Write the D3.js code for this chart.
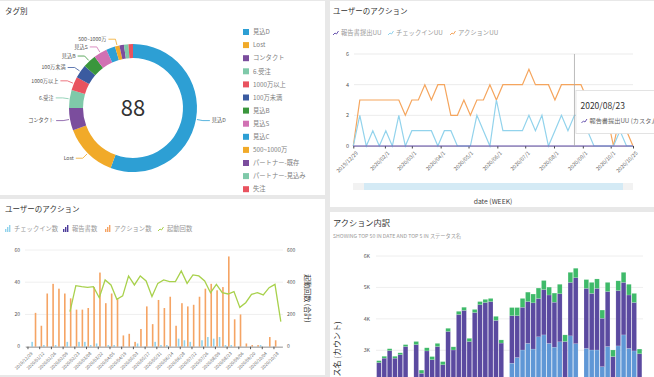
<!DOCTYPE html>
<html>
<head>
<meta charset="utf-8">
<script src="https://cdn.jsdelivr.net/npm/d3@7"></script>
<style>
body { margin: 0; background: #e8e8e8; }
svg { display: block; font-family: "Noto Sans CJK JP", "Noto Sans", sans-serif; }
</style>
</head>
<body>
<script>
//////////////// Datas ////////////////////
// Donut: タグ別
var tagNames  = ["見込D", "Lost", "コンタクト", "6.受注", "1000万以上", "100万未満", "見込B", "見込S",
                 "見込C", "500~1000万", "パートナー-既存", "パートナー-見込み", "失注"];
var tagCounts = [49, 12, 5, 4, 3, 3, 3, 3, 2, 1, 1, 1, 1];
var tagLabeled = ["見込D", "Lost", "コンタクト", "6.受注", "1000万以上", "100万未満", "見込B", "見込S", "500~1000万"];
var tagTotal = 88;

// Line chart: ユーザーのアクション (UU, weekly)
var uuSeriesNames = ["報告書提出UU", "チェックインUU", "アクションUU"];
var reportUU  = [0,0,0,0,0,0,0,0,0,0,0,0,0,0,0,0,0,0,0,0,0,0,0,0,0,0,0,0,0,0,0,0,0,0,0,0,0,0,0,0,0,0,0,0];
var checkinUU = [0,2,0,1,0,1,0,2,0,1,1,1,1,0,1,1,0,0,0,2,1,0,3,1,1,1,1,2,1,2,0,1,2,1,2,2,1,0,0,0,0,1,0,0];
var actionUU  = [0,3,3,3,3,3,3,3,2,3,3,4,3,4,4,2,2,3,2,3,3,4,3,4,4,4,4,5,4,4,4,3,4,4,4,4,3,3,2,2,0,2,1,0];
var uuTickLabels = ["2019/12/29", "2020/02/1", "2020/03/1", "2020/04/1", "2020/05/1", "2020/06/1",
                    "2020/07/1", "2020/08/1", "2020/09/1", "2020/10/1", "2020/10/25"];
var uuYTicks = [0, 2, 4, 6];
var hoverWeek = "2020/08/23";

// Bar + line chart: ユーザーのアクション (counts, weekly)
var countSeriesNames = ["チェックイン数", "報告書数", "アクション数", "起動回数"];
var checkinCount = [0,3,0,1,0,1,0,3,0,3,3,1,2,0,1,1,0,0,0,2,0,0,3,1,1,0,5,4,3,0,4,6,5,6,1,1,0,0,0,0,1,0,0,0];
var reportCount  = [0,0,0,0,0,0,0,0,0,0,0,0,0,0,0,0,0,0,0,0,0,0,0,0,0,0,0,0,0,0,0,0,0,0,0,0,0,0,0,0,0,0,0,0];
var actionCount  = [0,21,13,33,39,36,33,30,23,23,24,37,46,27,33,30,7,8,3,11,25,14,29,24,31,13,27,25,26,31,36,39,35,37,56,17,20,2,1,1,0,6,4,0];
var launchCount  = [null,null,null,null,null,null,null,217,379,373,368,373,304,414,383,294,315,439,383,439,408,311,393,414,404,404,470,393,445,439,408,335,387,335,327,342,244,273,325,335,321,366,387,155];
var countTickLabels = ["2019/12/29","2020/01/12","2020/01/26","2020/02/09","2020/02/23","2020/03/08","2020/03/22",
                       "2020/04/05","2020/04/19","2020/05/03","2020/05/17","2020/05/31","2020/06/14","2020/06/28",
                       "2020/07/12","2020/07/26","2020/08/09","2020/08/23","2020/09/06","2020/09/20","2020/10/04","2020/10/18"];
var countLeftTicks = [0, 20, 40, 60];
var countRightTicks = [0, 200, 400, 600];

// Stacked bars: アクション内訳 (top 50 dates, visible part)
var statusKeys = ["statusA", "statusB", "statusC"];
var statusA = [1500,1500,1500,1500,1500,1500,1200,1500,1400,1500,1500,1500,1500,1500,1500,1500,1500,1500,1500,1500,1500,1500,1500,1500,1300,
               2590,2770,3010,3220,3040,3430,3490,3220,3100,3270,2000,3460,3210,1300,3060,3010,3010,2480,3120,1900,3140,3490,3060,2980,1900];
var statusB = [1110,1250,1490,1250,1360,1620,650,1680,870,1480,1200,1620,1040,2100,1510,2640,2770,1780,2700,2950,3020,3050,2450,1730,600,
               1510,1330,1360,1330,1470,1220,1440,1540,1430,1530,1280,1700,2100,700,1910,1800,1960,1540,1750,900,1760,1670,1700,1540,990];
var statusC = [60,60,60,60,60,60,50,100,100,100,100,100,100,100,100,100,100,100,100,100,100,100,130,100,100,
               260,260,280,300,280,330,290,250,290,300,210,320,300,150,280,350,300,260,290,210,310,320,340,290,150];
var breakdownYTicks = [3000, 4000, 5000, 6000];

//////////////// Colours ////////////////////
var tagPalette = ["#2d9fd4", "#f1aa29", "#7b4d9d", "#7fc9a9", "#e9535f", "#3b5ba0", "#3a963c", "#d171b3"];
var uuColors = ["#6a56b0", "#92d3ec", "#f5a55d"];
var countColors = ["#92d3ec", "#4b3b9a", "#f5a464", "#a8d14c"];
var statusColors = ["#5f97d6", "#5b4aa0", "#3fba6a"];

//////////////// SVG ////////////////////
var svg = d3.select("body").append("svg")
  .attr("width", 654)
  .attr("height", 377);

svg.append("rect").attr("width", 654).attr("height", 377).attr("fill", "#e8e8e8");

function panel(x, y, w, h) {
  svg.append("rect")
    .attr("x", x).attr("y", y).attr("width", w).attr("height", h)
    .attr("fill", "#fff");
  return svg.append("g").attr("transform", "translate(" + x + "," + y + ")");
}

var p1 = panel(0, 1, 325, 194);
var p2 = panel(330, 1, 324, 206);
var p3 = panel(0, 199, 325, 176);
var p4 = panel(330, 212, 324, 165);

function title(g, txt, x, y, size) {
  g.append("text").attr("x", x).attr("y", y)
    .attr("font-size", size).attr("fill", "#333").text(txt);
}

//////////////// Donut ////////////////////
title(p1, "タグ別", 5, 13, 7.5);

var tagColor = d3.scaleOrdinal().domain(tagNames).range(tagPalette);
var rOuter = 64, rInner = 50;
var donut = p1.append("g").attr("transform", "translate(133,107)");

var pie = d3.pie().sort(null).value(function(d, i){ return tagCounts[i]; });
var arcs = pie(tagNames);
var arc = d3.arc().innerRadius(rInner).outerRadius(rOuter);

donut.selectAll("path.slice")
  .data(arcs)
  .enter()
  .append("path")
  .attr("class", "slice")
  .attr("d", arc)
  .attr("fill", function(d){ return tagColor(d.data); });

donut.append("text")
  .attr("text-anchor", "middle")
  .attr("dy", "0.35em")
  .attr("font-size", 22)
  .attr("fill", "#333")
  .text(tagTotal);

// labels with leader lines
arcs.forEach(function(d){
  if (tagLabeled.indexOf(d.data) < 0) return;
  var mid = (d.startAngle + d.endAngle) / 2;
  var p0 = [Math.sin(mid) * (rOuter + 1), -Math.cos(mid) * (rOuter + 1)];
  var p1a = [Math.sin(mid) * (rOuter + 7), -Math.cos(mid) * (rOuter + 7)];
  var right = Math.sin(mid) > 0;
  var p2a = [p1a[0] + (right ? 7 : -7), p1a[1]];
  donut.append("path")
    .attr("d", "M" + p0 + "L" + p1a + "L" + p2a)
    .attr("fill", "none")
    .attr("stroke", tagColor(d.data))
    .attr("stroke-width", 0.8);
  donut.append("text")
    .attr("x", p2a[0] + (right ? 2 : -2))
    .attr("y", p2a[1])
    .attr("dy", "0.35em")
    .attr("text-anchor", right ? "start" : "end")
    .attr("font-size", 5.2)
    .attr("fill", "#555")
    .text(d.data);
});

// legend
var tagLegend = p1.selectAll("g.tagleg")
  .data(tagNames)
  .enter()
  .append("g")
  .attr("class", "tagleg")
  .attr("transform", function(d, i){ return "translate(243," + (31 + i * 13.1) + ")"; });
tagLegend.append("rect")
  .attr("x", 0).attr("y", -3).attr("width", 6).attr("height", 6)
  .attr("fill", function(d){ return tagColor(d); });
tagLegend.append("text")
  .attr("x", 10).attr("dy", "0.35em")
  .attr("font-size", 6.3).attr("fill", "#808080")
  .text(function(d){ return d; });

//////////////// Line chart (UU) ////////////////////
title(p2, "ユーザーのアクション", 3, 13, 7.5);

var weeks = d3.timeWeek.range(new Date(2019, 11, 29), new Date(2020, 9, 26));
var parseSlash = d3.timeParse("%Y/%m/%d");

var xUU = d3.scaleTime()
  .domain([weeks[0], weeks[weeks.length - 1]])
  .range([23.3, 303]);
var yUU = d3.scaleLinear().domain([0, 6]).range([145, 53]);

// legend
var uuLegend = p2.selectAll("g.uuleg")
  .data(uuSeriesNames)
  .enter()
  .append("g")
  .attr("class", "uuleg")
  .attr("transform", function(d, i){ return "translate(" + [3, 58, 120][i] + ",32)"; });
uuLegend.append("path")
  .attr("d", "M0,2 L2,0 L3.5,1 L5.5,-2")
  .attr("fill", "none")
  .attr("stroke", function(d, i){ return uuColors[i]; })
  .attr("stroke-width", 1);
uuLegend.append("text")
  .attr("x", 8).attr("dy", "0.35em")
  .attr("font-size", 6.3).attr("fill", "#999")
  .text(function(d){ return d; });

// grid
p2.selectAll("line.grid")
  .data(uuYTicks)
  .enter()
  .append("line")
  .attr("x1", 24).attr("x2", 303)
  .attr("y1", function(d){ return yUU(d); })
  .attr("y2", function(d){ return yUU(d); })
  .attr("stroke", "#e6e6e6").attr("stroke-width", 0.8);

p2.selectAll("text.ylab")
  .data(uuYTicks)
  .enter()
  .append("text")
  .attr("x", 19).attr("y", function(d){ return yUU(d); })
  .attr("dy", "0.35em").attr("text-anchor", "end")
  .attr("font-size", 5.5).attr("fill", "#555")
  .text(function(d){ return d; });

// x axis
var xAxisUU = d3.axisBottom(xUU)
  .tickValues(uuTickLabels.map(function(s){ return parseSlash(s); }))
  .tickFormat(function(d, i){ return uuTickLabels[i]; })
  .tickSize(2.5)
  .tickSizeOuter(0);
var gxUU = p2.append("g")
  .attr("transform", "translate(0," + yUU(0) + ")")
  .call(xAxisUU);
gxUU.select(".domain").attr("stroke", "#ccc");
gxUU.selectAll(".tick line").attr("stroke", "#444");
gxUU.selectAll(".tick text")
  .attr("font-family", "Noto Sans CJK JP, sans-serif")
  .attr("font-size", 5.3).attr("fill", "#666")
  .attr("text-anchor", "end")
  .attr("transform", "translate(-2,1) rotate(-45)");

// lines
var uuSeries = [reportUU, checkinUU, actionUU];
var uuLine = d3.line()
  .x(function(d, i){ return xUU(weeks[i]); })
  .y(function(d){ return yUU(d); });
[2, 1, 0].forEach(function(k){
  p2.append("path")
    .datum(uuSeries[k])
    .attr("d", uuLine)
    .attr("fill", "none")
    .attr("stroke", uuColors[k])
    .attr("stroke-width", 1.2);
});

// crosshair + tooltip
var hoverX = xUU(parseSlash(hoverWeek));
p2.append("line")
  .attr("x1", hoverX).attr("x2", hoverX)
  .attr("y1", yUU(6)).attr("y2", yUU(0))
  .attr("stroke", "#aaa").attr("stroke-width", 0.8);

var tip = p2.append("g").attr("transform", "translate(" + (hoverX + 1) + ",89)");
tip.append("rect")
  .attr("x", 0.5).attr("y", 0.5).attr("width", 100).attr("height", 43)
  .attr("fill", "#fff").attr("stroke", "#ddd").attr("stroke-width", 0.8);
tip.append("text")
  .attr("x", 5).attr("y", 19)
  .attr("font-size", 8.5).attr("fill", "#333")
  .text(hoverWeek);
tip.append("path")
  .attr("d", "M6,33 L8,31 L9.5,32 L11.5,29")
  .attr("fill", "none").attr("stroke", uuColors[0]).attr("stroke-width", 1);
tip.append("text")
  .attr("x", 14).attr("y", 33)
  .attr("font-size", 6.2).attr("fill", "#666")
  .text(uuSeriesNames[0] + " (カスタム)");

// brush bar
p2.append("rect")
  .attr("x", 23).attr("y", 182).attr("width", 280).attr("height", 7)
  .attr("fill", "#f2f2f2");
p2.append("rect")
  .attr("x", 34).attr("y", 182).attr("width", 259).attr("height", 7)
  .attr("fill", "#d4eaf5");
p2.append("text")
  .attr("x", 163).attr("y", 203)
  .attr("text-anchor", "middle")
  .attr("font-size", 6.8).attr("fill", "#444")
  .text("date (WEEK)");

//////////////// Bar + line chart (counts) ////////////////////
title(p3, "ユーザーのアクション", 5, 13, 7.5);

var xCount = d3.scaleBand()
  .domain(d3.range(weeks.length))
  .range([25.4, 282.4])
  .paddingInner(0.12)
  .paddingOuter(0);
var xSub = d3.scaleBand()
  .domain([0, 1, 2])
  .range([0, xCount.bandwidth()])
  .padding(0.05);
var yLeft = d3.scaleLinear().domain([0, 60]).range([147.7, 51]);
var yRight = d3.scaleLinear().domain([0, 600]).range([147.7, 51]);

// legend
var countLegend = p3.selectAll("g.cleg")
  .data(countSeriesNames)
  .enter()
  .append("g")
  .attr("class", "cleg")
  .attr("transform", function(d, i){ return "translate(" + [5, 63, 105, 158][i] + ",30)"; });
countLegend.each(function(d, i){
  var g = d3.select(this);
  if (i < 3) {
    [3, 5, 7].forEach(function(h, j){
      g.append("rect")
        .attr("x", j * 2).attr("y", 3 - h).attr("width", 1.4).attr("height", h)
        .attr("fill", countColors[i]);
    });
  } else {
    g.append("path")
      .attr("d", "M0,2 L2,0 L3.5,1 L5.5,-2")
      .attr("fill", "none").attr("stroke", countColors[i]).attr("stroke-width", 1);
  }
  g.append("text")
    .attr("x", 9).attr("dy", "0.3em")
    .attr("font-size", 6.3).attr("fill", "#999")
    .text(d);
});

// grid + axes labels
p3.selectAll("line.grid")
  .data(countLeftTicks)
  .enter()
  .append("line")
  .attr("x1", 25).attr("x2", 283)
  .attr("y1", function(d){ return yLeft(d); })
  .attr("y2", function(d){ return yLeft(d); })
  .attr("stroke", "#ececec").attr("stroke-width", 0.8);
p3.selectAll("text.yl")
  .data(countLeftTicks)
  .enter()
  .append("text")
  .attr("x", 20).attr("y", function(d){ return yLeft(d); })
  .attr("dy", "0.35em").attr("text-anchor", "end")
  .attr("font-size", 5).attr("fill", "#555")
  .text(function(d){ return d; });
p3.selectAll("text.yr")
  .data(countRightTicks)
  .enter()
  .append("text")
  .attr("x", 287).attr("y", function(d){ return yRight(d); })
  .attr("dy", "0.35em")
  .attr("font-size", 5).attr("fill", "#555")
  .text(function(d){ return d; });
p3.append("text")
  .attr("transform", "translate(305," + yRight(300) + ") rotate(90)")
  .attr("text-anchor", "middle")
  .attr("font-size", 7).attr("fill", "#333")
  .text(countSeriesNames[3] + " (合計)");

// bars
var countSeries = [checkinCount, reportCount, actionCount];
countSeries.forEach(function(vals, k){
  p3.selectAll("rect.b" + k)
    .data(vals)
    .enter()
    .append("rect")
    .attr("class", "b" + k)
    .attr("x", function(d, i){ return xCount(i) + xSub(k); })
    .attr("width", xSub.bandwidth())
    .attr("y", function(d){ return yLeft(d); })
    .attr("height", function(d){ return yLeft(0) - yLeft(d); })
    .attr("fill", countColors[k]);
});

// x axis
var xAxisCount = d3.axisBottom(xCount)
  .tickValues(countTickLabels.map(function(d, i){ return i * 2; }))
  .tickFormat(function(d, i){ return countTickLabels[i]; })
  .tickSize(2.5)
  .tickSizeOuter(0);
var gxCount = p3.append("g")
  .attr("transform", "translate(0," + yLeft(0) + ")")
  .call(xAxisCount);
gxCount.select(".domain").attr("stroke", "#999");
gxCount.selectAll(".tick line").attr("stroke", "#555");
gxCount.selectAll(".tick text")
  .attr("font-family", "Noto Sans CJK JP, sans-serif")
  .attr("font-size", 4.4).attr("fill", "#666")
  .attr("text-anchor", "end")
  .attr("transform", "translate(-1,1) rotate(-45)");

// launch line
var launchLine = d3.line()
  .defined(function(d){ return d !== null; })
  .x(function(d, i){ return xCount(i) + xCount.bandwidth() / 2 + 1; })
  .y(function(d){ return yRight(d); });
p3.append("path")
  .datum(launchCount)
  .attr("d", launchLine)
  .attr("fill", "none")
  .attr("stroke", countColors[3])
  .attr("stroke-width", 1.3);

//////////////// Stacked bars (breakdown) ////////////////////
title(p4, "アクション内訳", 3, 14, 8.2);
p4.append("text")
  .attr("x", 3).attr("y", 26)
  .attr("font-size", 5.2).attr("fill", "#999")
  .text("SHOWING TOP 50 IN DATE AND TOP 5 IN ステータス名");

var clip = svg.append("clipPath").attr("id", "p4clip")
  .append("rect").attr("x", 0).attr("y", 0).attr("width", 324).attr("height", 165);

var xBd = d3.scaleBand()
  .domain(d3.range(statusA.length))
  .range([46, 312.5])
  .padding(0.12);
var yBd = d3.scaleLinear().domain([3000, 6000]).range([138.3, 44]);

p4.selectAll("line.grid")
  .data(breakdownYTicks)
  .enter()
  .append("line")
  .attr("x1", 46).attr("x2", 313)
  .attr("y1", function(d){ return yBd(d); })
  .attr("y2", function(d){ return yBd(d); })
  .attr("stroke", "#eaeaea").attr("stroke-width", 0.8);
p4.selectAll("text.yl")
  .data(breakdownYTicks)
  .enter()
  .append("text")
  .attr("x", 40).attr("y", function(d){ return yBd(d); })
  .attr("dy", "0.35em").attr("text-anchor", "end")
  .attr("font-size", 5.3).attr("fill", "#555")
  .text(function(d){ return d3.format(".0s")(d).replace("k", "K"); });

var bdRows = statusA.map(function(d, i){
  return {statusA: statusA[i], statusB: statusB[i], statusC: statusC[i]};
});
var stacked = d3.stack().keys(statusKeys)(bdRows);

var bdG = p4.append("g").attr("clip-path", "url(#p4clip)");
bdG.selectAll("g.layer")
  .data(stacked)
  .enter()
  .append("g")
  .attr("class", "layer")
  .attr("fill", function(d, i){ return statusColors[i]; })
  .selectAll("rect")
  .data(function(d){ return d; })
  .enter()
  .append("rect")
  .attr("x", function(d, i){ return xBd(i); })
  .attr("width", xBd.bandwidth())
  .attr("y", function(d){ return yBd(d[1]); })
  .attr("height", function(d){ return yBd(d[0]) - yBd(d[1]); })
  .attr("stroke", "#fff")
  .attr("stroke-opacity", 0.35)
  .attr("stroke-width", 0.4);

p4.append("g").attr("clip-path", "url(#p4clip)")
  .append("text")
  .attr("transform", "translate(10,153) rotate(-90)")
  .attr("text-anchor", "middle")
  .attr("font-size", 8).attr("fill", "#333")
  .text("ステータス名 (カウント)");
</script>
</body>
</html>
